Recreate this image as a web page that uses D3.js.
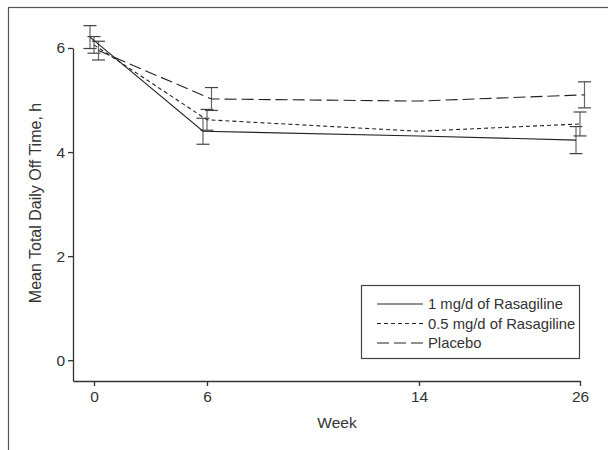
<!DOCTYPE html>
<html>
<head>
<meta charset="utf-8">
<script src="https://cdn.jsdelivr.net/npm/d3@7"></script>
<style>
  body { margin: 0; background: #fff; }
  svg text { font-family: "Liberation Sans", Arial, sans-serif; fill: #333; }
</style>
</head>
<body>
<div id="chart"></div>
<script>
// data
const weeks = [0, 6, 14, 26];
const seriesNames = ["1 mg/d of Rasagiline", "0.5 mg/d of Rasagiline", "Placebo"];
const rasagiline1 = [6.21, 4.40, 4.31, 4.23];
const rasagiline05 = [6.06, 4.62, 4.40, 4.54];
const placebo = [5.95, 5.02, 4.98, 5.10];
// standard errors (null = no bar drawn)
const err1 = [0.22, 0.25, null, 0.26];
const err05 = [0.16, 0.20, null, 0.23];
const errPlacebo = [0.18, 0.22, null, 0.25];
const yTicks = [0, 2, 4, 6];

const width = 608, height = 450;

const svg = d3.select("#chart").append("svg")
    .attr("width", width)
    .attr("height", height);

// outer frame (runs off the bottom/right of the picture)
svg.append("rect")
    .attr("x", 8.5).attr("y", 7.5)
    .attr("width", 700).attr("height", 500)
    .attr("fill", "none")
    .attr("stroke", "#555")
    .attr("stroke-width", 1.2);

// weeks are not spaced evenly on the axis, so piecewise scale
const x = d3.scaleLinear()
    .domain([-1.1, 0, 6, 14, 26])
    .range([73, 94, 207, 419, 580]);

const y = d3.scaleLinear()
    .domain([-0.4, 6])
    .range([381, 48]);

const series = [
    { name: seriesNames[0], values: rasagiline1, errs: err1, dash: null, shift: -4 },
    { name: seriesNames[1], values: rasagiline05, errs: err05, dash: "4,3", shift: 0 },
    { name: seriesNames[2], values: placebo, errs: errPlacebo, dash: "12,5", shift: 4.5 }
];

// axes
const xAxis = svg.append("g")
    .attr("transform", "translate(0,381)")
    .call(d3.axisBottom(x).tickValues(weeks).tickSize(5).tickSizeOuter(0).tickPadding(5));
const yAxis = svg.append("g")
    .attr("transform", "translate(73,0)")
    .call(d3.axisLeft(y).tickValues(yTicks).tickFormat(d3.format("d"))
        .tickSize(5).tickSizeOuter(0).tickPadding(3));

[xAxis, yAxis].forEach(g => {
    g.selectAll("path, line").attr("stroke", "#333").attr("stroke-width", 1.3);
    g.selectAll("text").attr("font-size", "15.5px").attr("fill", "#333");
    g.attr("font-family", null);
});

svg.append("text")
    .attr("x", (x(0) + x(26)) / 2)
    .attr("y", 428)
    .attr("text-anchor", "middle")
    .attr("font-size", "15.5px")
    .text("Week");

svg.append("text")
    .attr("transform", "translate(41,203) rotate(-90)")
    .attr("text-anchor", "middle")
    .attr("font-size", "16px")
    .text("Mean Total Daily Off Time, h");

// error bars
series.forEach(s => {
    const bars = svg.append("g");
    s.values.forEach((v, i) => {
        const e = s.errs[i];
        if (e == null) return;
        const cx = x(weeks[i]) + s.shift;
        bars.append("line")
            .attr("x1", cx).attr("x2", cx)
            .attr("y1", y(v - e)).attr("y2", y(v + e))
            .attr("stroke", "#666").attr("stroke-width", 1.2);
        [v - e, v + e].forEach(t => {
            bars.append("line")
                .attr("x1", cx - 6.5).attr("x2", cx + 6.5)
                .attr("y1", y(t)).attr("y2", y(t))
                .attr("stroke", "#444").attr("stroke-width", 1.2);
        });
    });
});

// lines
const line = d3.line()
    .x(d => d.x)
    .y(d => y(d.v));

series.forEach(s => {
    const pts = s.values.map((v, i) => ({ x: x(weeks[i]) + (s.errs[i] == null ? 0 : s.shift), v: v }));
    svg.append("path")
        .datum(pts)
        .attr("d", line)
        .attr("fill", "none")
        .attr("stroke", "#222")
        .attr("stroke-width", 1.1)
        .attr("stroke-dasharray", s.dash);
});

// legend
const legend = svg.append("g");
legend.append("rect")
    .attr("x", 361.5).attr("y", 285.5)
    .attr("width", 218).attr("height", 73)
    .attr("fill", "#fff")
    .attr("stroke", "#444")
    .attr("stroke-width", 1.2);

series.forEach((s, i) => {
    const ly = 304 + i * 19.5;
    legend.append("line")
        .attr("x1", 377).attr("x2", 423)
        .attr("y1", ly).attr("y2", ly)
        .attr("stroke", "#222")
        .attr("stroke-width", 1.1)
        .attr("stroke-dasharray", s.dash);
    legend.append("text")
        .attr("x", 428)
        .attr("y", ly)
        .attr("dy", "0.35em")
        .attr("font-size", "14.8px")
        .text(s.name);
});
</script>
</body>
</html>
